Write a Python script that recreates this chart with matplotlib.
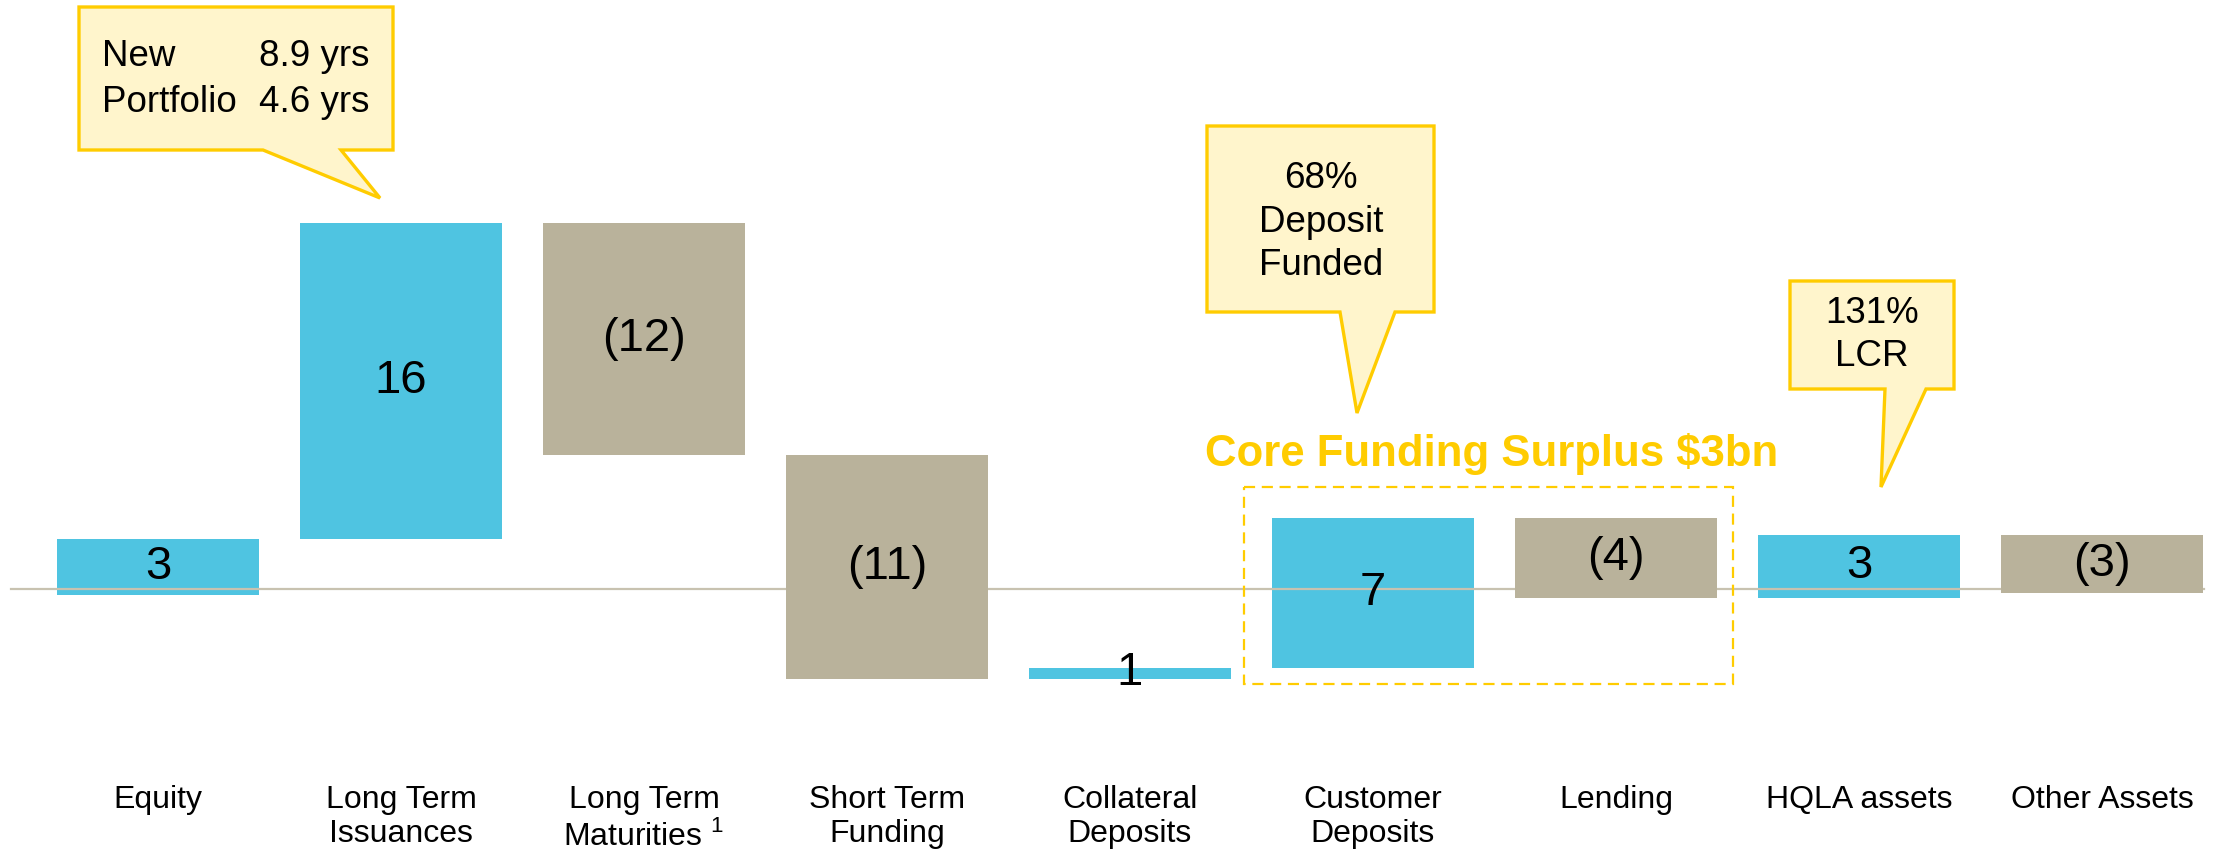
import matplotlib.pyplot as plt
from matplotlib.patches import Polygon, Rectangle
import numpy as np

plt.rcParams['font.family'] = ['Liberation Sans', 'DejaVu Sans']
plt.rcParams['mathtext.fontset'] = 'custom'
plt.rcParams['mathtext.rm'] = 'Liberation Sans'

# data ($bn)
categories = ["Equity", "Long Term\nIssuances", "Long Term\nMaturities $^{1}$", "Short Term\nFunding",
              "Collateral\nDeposits", "Customer\nDeposits", "Lending", "HQLA assets", "Other Assets"]
start = -0.30
changes = [2.84, 16.0, -11.77, -11.32, 0.56, 7.59, -4.05, 3.19, -2.94]
value_labels = ["3", "16", "(12)", "(11)", "1", "7", "(4)", "3", "(3)"]

blue = "#4FC4E1"
tan = "#B9B29B"
gold = "#FFCC00"
pale = "#FFF5CC"

changes = np.array(changes)
bottoms = start + np.concatenate([[0], np.cumsum(changes)[:-1]])
x = np.arange(len(categories))

fig = plt.figure(figsize=(22.15, 8.52), dpi=100)
ax = fig.add_axes([0, 0, 1, 1])
ax.set_xlim(-0.650, 8.465)
ax.set_ylim(-13.32, 29.82)
ax.axis('off')

for i in range(len(x)):
    up = changes[i] > 0
    ax.bar(x[i], changes[i], bottom=bottoms[i], width=0.831,
           color=blue if up else tan, zorder=1 if up else 3)
    ax.text(x[i], bottoms[i] + changes[i] / 2, value_labels[i], ha='center', va='center',
            fontsize=34, zorder=5)
    ax.text(x[i], 0.079, categories[i], transform=ax.get_xaxis_transform(),
            ha='center', va='top', fontsize=23, linespacing=1.2)

ax.axhline(0, xmin=0.005, xmax=0.995, color="#C8C2B0", lw=1.6, zorder=2)

# overlay in pixel coordinates for callouts
ov = fig.add_axes([0, 0, 1, 1])
ov.set_xlim(0, 2215)
ov.set_ylim(852, 0)
ov.axis('off')


def callout(box, base, tip):
    x0, y0, x1, y1 = box
    pts = [(x0, y0), (x1, y0), (x1, y1), (base[1], y1), tip, (base[0], y1), (x0, y1)]
    ov.add_patch(Polygon(pts, closed=True, facecolor=pale, edgecolor=gold, lw=2.4, joinstyle='miter'))


callout((79, 7, 393, 150), (263, 341), (380, 198))
ov.text(102, 57, "New", fontsize=26.5, va='center')
ov.text(102, 103, "Portfolio", fontsize=26.5, va='center')
ov.text(259, 57, "8.9 yrs", fontsize=26.5, va='center')
ov.text(259, 103, "4.6 yrs", fontsize=26.5, va='center')

callout((1207, 126, 1434, 312), (1340, 1395), (1357, 413))
ov.text(1321, 222, "68%\nDeposit\nFunded", fontsize=26.5, ha='center', va='center', linespacing=1.3)

callout((1790, 281, 1954, 389), (1885, 1926), (1881, 487))
ov.text(1872, 335, "131%\nLCR", fontsize=26.5, ha='center', va='center', linespacing=1.3)

ov.text(1205, 454, "Core Funding Surplus $3bn", fontsize=31.5, fontweight='bold',
        color=gold, va='center', ha='left')
ov.add_patch(Rectangle((1244, 487), 489, 197, fill=False, edgecolor=gold, lw=1.6,
                       linestyle=(0, (5, 3))))

fig.savefig("out.png", dpi=100)
